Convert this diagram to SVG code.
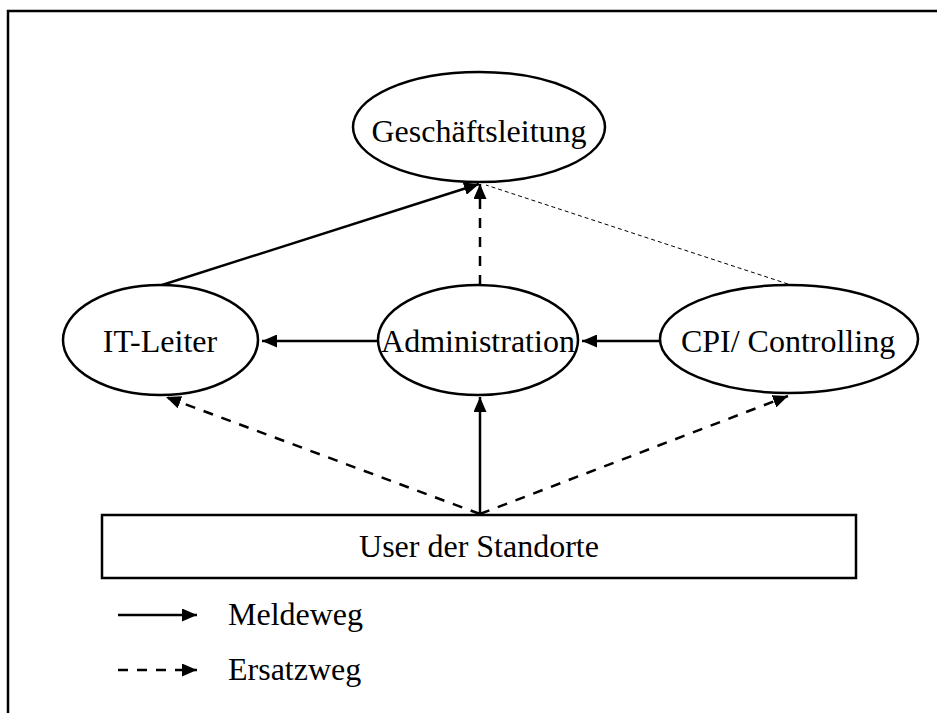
<svg xmlns="http://www.w3.org/2000/svg" width="937" height="713" viewBox="0 0 937 713">
<style>
.node{fill:#fff;stroke:#000;stroke-width:2.5}
.lbl{font-family:"Liberation Serif","Times New Roman",serif;font-size:32px;fill:#000}
.mid{text-anchor:middle}
.solid{fill:none;stroke:#000;stroke-width:2.5}
.dash{fill:none;stroke:#000;stroke-width:2.5;stroke-dasharray:10 9}
.thin{fill:none;stroke:#000;stroke-width:1;stroke-dasharray:4 3}
</style>
<defs>
<marker id="ah" markerUnits="userSpaceOnUse" markerWidth="15" markerHeight="13" refX="15" refY="6.5" orient="auto">
<path d="M0,0 L15,6.5 L0,13 z" fill="#000"/>
</marker>
</defs>
<rect width="937" height="713" fill="#fff"/>
<g id="frame">
<path d="M8,713 L8,11 L937,11" fill="none" stroke="#000" stroke-width="2.5"/>
</g>
<g id="connectors">
<line class="solid" x1="162" y1="285" x2="479" y2="184" marker-end="url(#ah)"/>
<line class="dash" x1="480" y1="285" x2="480" y2="184" marker-end="url(#ah)"/>
<line class="thin" x1="788" y1="284" x2="486" y2="185"/>
<line class="solid" x1="378" y1="341" x2="262" y2="341" marker-end="url(#ah)"/>
<line class="solid" x1="660" y1="341" x2="582" y2="341" marker-end="url(#ah)"/>
<line class="solid" x1="480" y1="515" x2="480" y2="397" marker-end="url(#ah)"/>
<line class="dash" x1="480" y1="514" x2="166" y2="397" marker-end="url(#ah)"/>
<line class="dash" x1="480" y1="514" x2="788" y2="396" marker-end="url(#ah)"/>
</g>
<g id="geschaeftsleitung">
<ellipse class="node" cx="479" cy="127" rx="126" ry="55"/>
<text class="lbl mid" x="479" y="142">Geschäftsleitung</text>
</g>
<g id="it-leiter">
<ellipse class="node" cx="160.5" cy="340" rx="97.5" ry="55"/>
<text class="lbl mid" x="160" y="352">IT-Leiter</text>
</g>
<g id="administration">
<ellipse class="node" cx="478" cy="340" rx="100" ry="55"/>
<text class="lbl mid" x="478" y="352">Administration</text>
</g>
<g id="cpi-controlling">
<ellipse class="node" cx="789" cy="339" rx="129" ry="54"/>
<text class="lbl mid" x="788" y="352">CPI/ Controlling</text>
</g>
<g id="user-standorte">
<rect class="node" x="102" y="515" width="754" height="63"/>
<text class="lbl mid" x="479" y="557">User der Standorte</text>
</g>
<g id="legend">
<line class="solid" x1="118" y1="615" x2="197" y2="615" marker-end="url(#ah)"/>
<text class="lbl" x="228" y="625">Meldeweg</text>
<line class="dash" x1="118" y1="670" x2="197" y2="670" marker-end="url(#ah)"/>
<text class="lbl" x="228" y="680">Ersatzweg</text>
</g>
</svg>
